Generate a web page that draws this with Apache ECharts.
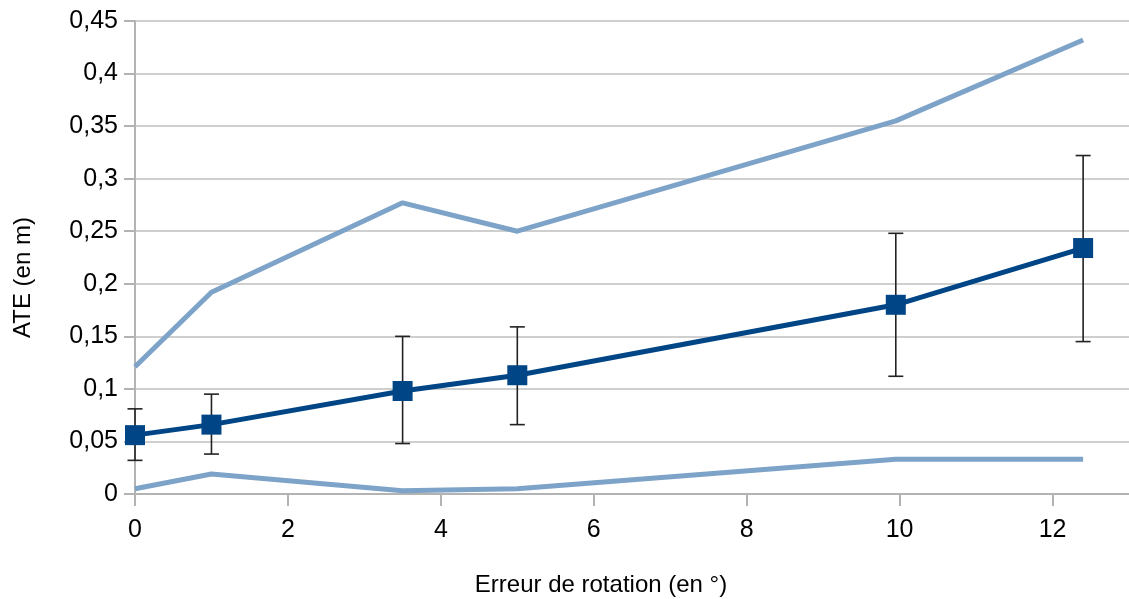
<!DOCTYPE html>
<html>
<head>
<meta charset="utf-8">
<script src="https://cdn.jsdelivr.net/npm/echarts@6/dist/echarts.min.js"></script>
<style>
  html, body { margin: 0; padding: 0; background: #fff; }
  #chart { width: 1129px; height: 599px; }
</style>
</head>
<body>
<div id="chart"></div>
<script>
  // rotation error (deg) and ATE values (m)
  const rotErr = [0, 1, 3.5, 5, 9.95, 12.4];
  const ateMean = [0.056, 0.066, 0.098, 0.113, 0.180, 0.234];
  const ateLow = [0.032, 0.038, 0.048, 0.066, 0.112, 0.145];
  const ateHigh = [0.081, 0.095, 0.150, 0.159, 0.248, 0.322];
  const ateMax = [0.121, 0.192, 0.277, 0.250, 0.355, 0.432];
  const ateMin = [0.005, 0.019, 0.003, 0.005, 0.033, 0.033];

  const font = 'Liberation Sans, Arial, sans-serif';
  const pairs = (ys) => rotErr.map((x, i) => [x, ys[i]]);
  const errData = rotErr.map((x, i) => [x, ateLow[i], ateHigh[i]]);

  const myChart = echarts.init(document.getElementById('chart'));

  let option = {
    animation: false,
    grid: { left: 135, right: 0, top: 21, bottom: 105, outerBoundsMode: 'none' },
    xAxis: {
      type: 'value',
      min: 0,
      max: 13,
      interval: 2,
      name: 'Erreur de rotation (en °)',
      nameLocation: 'middle',
      nameGap: 79,
      nameTextStyle: { fontFamily: font, fontSize: 24, color: '#000', padding: [0, 62, 0, 0] },
      axisLine: { lineStyle: { color: '#b3b3b3', width: 2 } },
      axisTick: { show: true, length: 12, lineStyle: { color: '#b3b3b3', width: 2 } },
      axisLabel: { fontFamily: font, fontSize: 25, color: '#000', margin: 24, showMaxLabel: false },
      splitLine: { show: false }
    },
    yAxis: {
      type: 'value',
      min: 0,
      max: 0.45,
      interval: 0.05,
      name: 'ATE (en m)',
      nameLocation: 'middle',
      nameGap: 100,
      nameTextStyle: { fontFamily: font, fontSize: 24, color: '#000', padding: [0, 40, 0, 0] },
      axisLine: { show: true, lineStyle: { color: '#b3b3b3', width: 2 } },
      axisTick: { show: true, length: 11, lineStyle: { color: '#b3b3b3', width: 2 } },
      axisLabel: {
        fontFamily: font, fontSize: 25, color: '#000', margin: 17,
        formatter: (v) => String(Math.round(v * 100) / 100).replace('.', ',')
      },
      splitLine: { lineStyle: { color: '#cfcfcf', width: 2 } }
    },
    series: [
      {
        name: 'min',
        type: 'line',
        data: pairs(ateMin),
        symbol: 'none',
        lineStyle: { color: '#7ea3c8', width: 5 },
        z: 2
      },
      {
        name: 'max',
        type: 'line',
        data: pairs(ateMax),
        symbol: 'none',
        lineStyle: { color: '#7ea3c8', width: 5 },
        z: 2
      },
      {
        name: 'erreur',
        type: 'custom',
        data: errData,
        z: 3,
        renderItem: function (params, api) {
          const lo = api.coord([api.value(0), api.value(1)]);
          const hi = api.coord([api.value(0), api.value(2)]);
          const w = 7.5;
          const style = { stroke: '#222', lineWidth: 1.6 };
          return {
            type: 'group',
            children: [
              { type: 'line', shape: { x1: lo[0], y1: lo[1], x2: hi[0], y2: hi[1] }, style: style },
              { type: 'line', shape: { x1: lo[0] - w, y1: lo[1], x2: lo[0] + w, y2: lo[1] }, style: style },
              { type: 'line', shape: { x1: hi[0] - w, y1: hi[1], x2: hi[0] + w, y2: hi[1] }, style: style }
            ]
          };
        }
      },
      {
        name: 'ATE',
        type: 'line',
        data: pairs(ateMean),
        symbol: 'rect',
        symbolSize: 20,
        itemStyle: { color: '#004586' },
        lineStyle: { color: '#004586', width: 5 },
        z: 4
      }
    ]
  };

  myChart.setOption(option);
  window.addEventListener('resize', function () {
    myChart.resize();
  });
</script>
</body>
</html>
